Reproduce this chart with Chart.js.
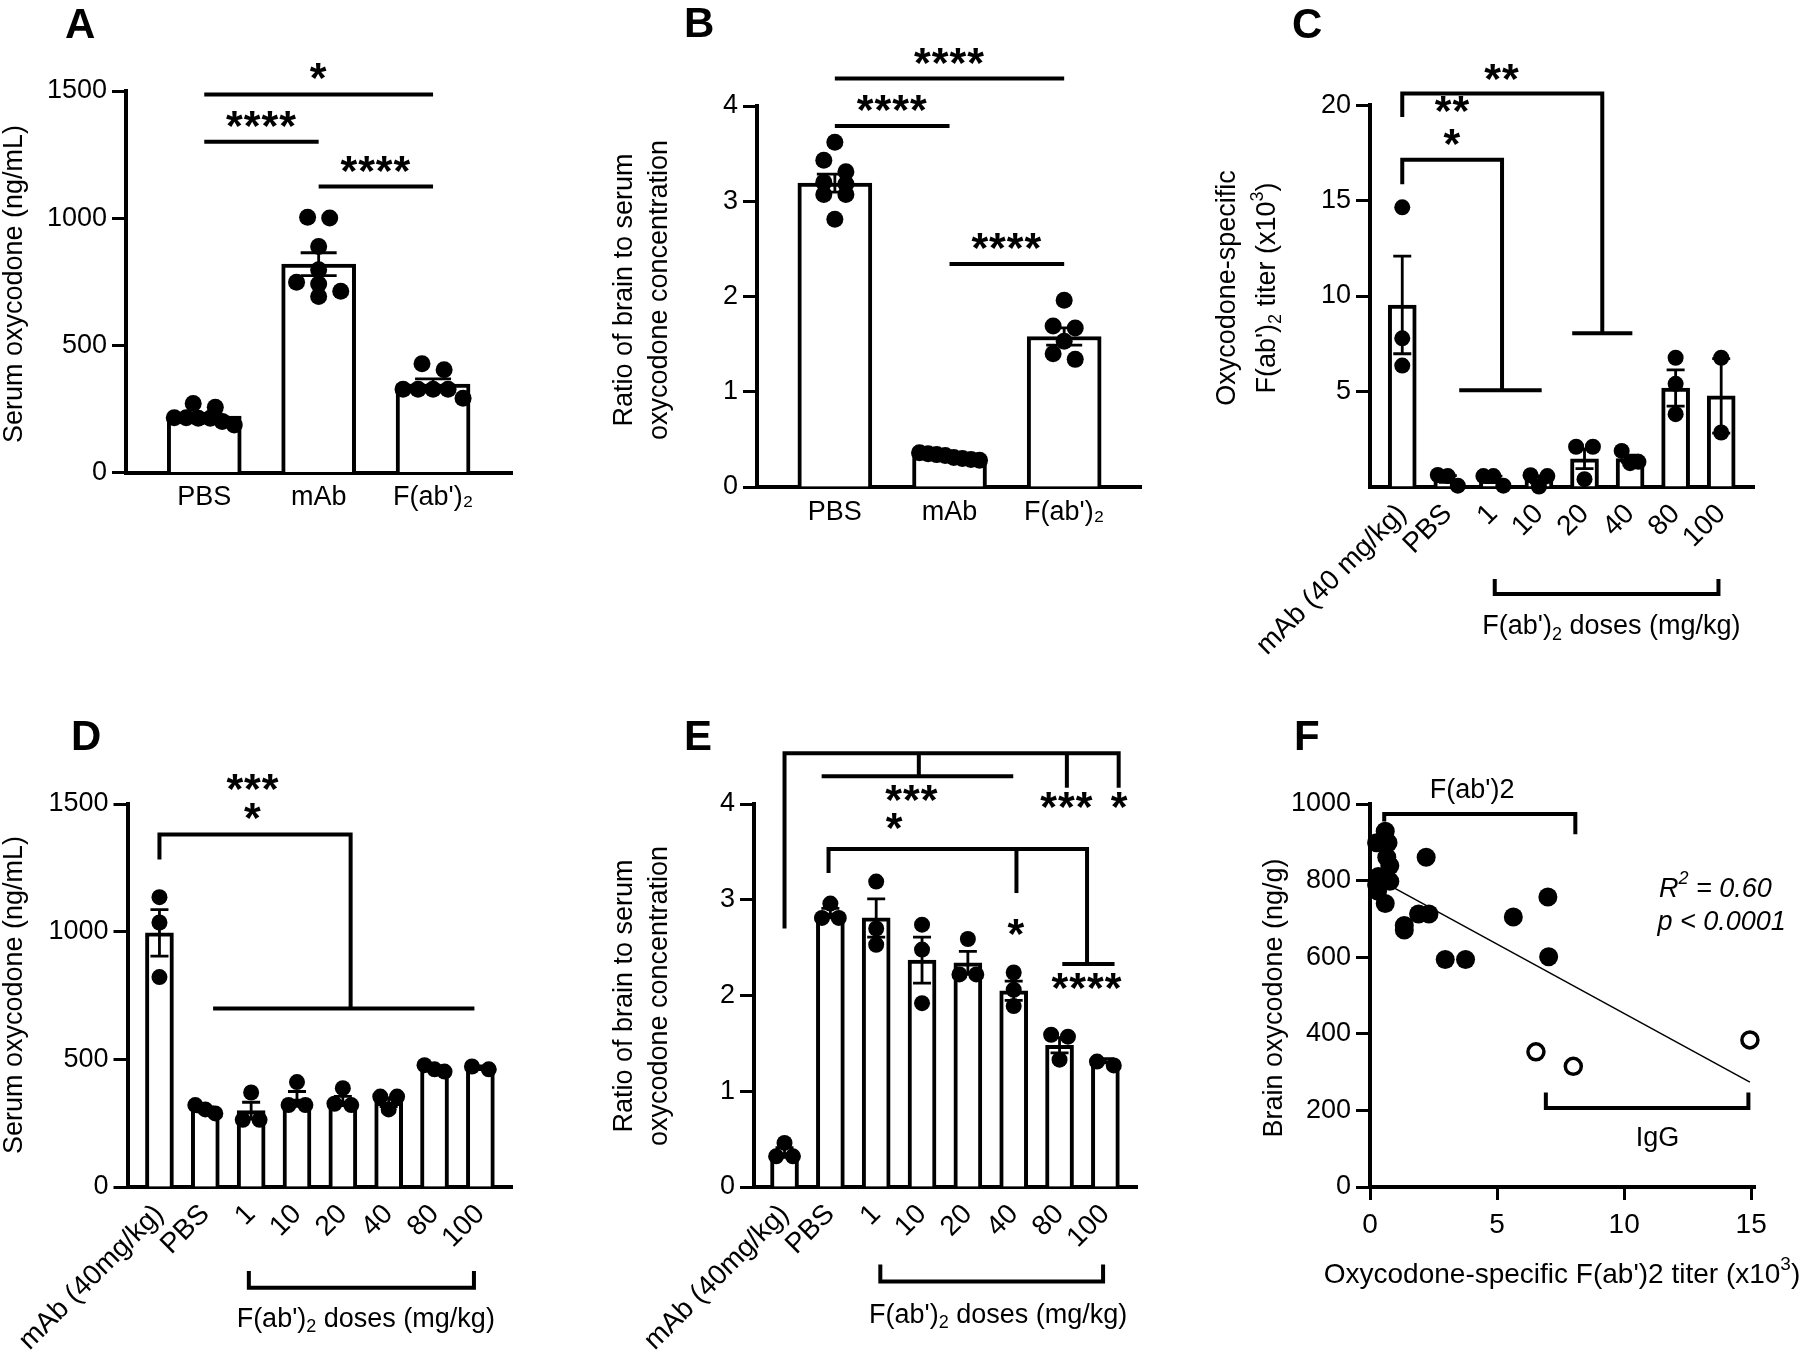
<!DOCTYPE html>
<html>
<head>
<meta charset="utf-8">
<script src="https://cdn.jsdelivr.net/npm/chart.js@4.4.1/dist/chart.umd.min.js"></script>
<style>
  body { margin: 0; background: #fff; }
  #wrap { position: relative; width: 1800px; height: 1358px; background: #fff; }
  #wrap canvas { position: absolute; }
</style>
</head>
<body>
<div id="wrap">
  <canvas id="cA" width="600" height="679" style="left:0;top:0"></canvas>
  <canvas id="cB" width="600" height="679" style="left:600px;top:0"></canvas>
  <canvas id="cC" width="600" height="679" style="left:1200px;top:0"></canvas>
  <canvas id="cD" width="600" height="679" style="left:0;top:679px"></canvas>
  <canvas id="cE" width="600" height="679" style="left:600px;top:679px"></canvas>
  <canvas id="cF" width="600" height="679" style="left:1200px;top:679px"></canvas>
</div>
<script>
// ---- A: serum oxycodone (ng/mL)
const groupsA = ['PBS', 'mAb', "F(ab')₂"];
const meanA = [222, 819, 348];
const semA = [10, 45, 20];
const dotsA = [
  [271, 201, 215, 213, 215, 257, 187, 213],
  [1001, 1004, 889, 797, 748, 741, 692, 713],
  [404, 428, 327, 327, 327, 327, 292]
];
const yTicksA = [0, 500, 1000, 1500];

// ---- B: brain / serum ratio
const groupsB = ['PBS', 'mAb', "F(ab')₂"];
const meanB = [3.19, 0.32, 1.58];
const semB = [0.095, 0.01, 0.09];
const dotsB = [
  [3.62, 3.43, 3.31, 3.20, 3.18, 3.07, 3.07, 2.81],
  [0.36, 0.33, 0.35, 0.30, 0.34, 0.29, 0.28, 0.31],
  [1.96, 1.69, 1.67, 1.53, 1.34, 1.40]
];
const yTicksB = [0, 1, 2, 3, 4];

// ---- C: oxycodone-specific F(ab')2 titer (x10^3)
const groupsC = ['mAb (40 mg/kg)', 'PBS', '1', '10', '20', '40', '80', '100'];
const meanC = [9.53, 0.40, 0.38, 0.38, 1.46, 1.47, 5.17, 4.76];
const semC = [2.56, 0.18, 0.17, 0.18, 0.52, 0.18, 0.95, 1.95];
const dotsC = [
  [14.65, 7.78, 6.35], [0.05, 0.61, 0.55], [0.05, 0.55, 0.55], [0.0, 0.6, 0.55],
  [2.09, 2.09, 0.39], [1.87, 1.23, 1.30], [6.76, 5.39, 3.80], [6.76, 2.84]
];
const yTicksC = [5, 10, 15, 20];

// ---- D: serum oxycodone by dose
const groupsD = ['mAb (40mg/kg)', 'PBS', '1', '10', '20', '40', '80', '100'];
const meanD = [995, 304, 299, 345, 337, 332, 466, 469];
const semD = [91, 10, 33, 29, 18, 17, 8, 5];
const dotsD = [
  [1135, 1036, 822], [288, 321, 304], [370, 263, 263], [411, 321, 321],
  [387, 321, 326], [304, 354, 354], [461, 477, 452], [461, 472]
];
const yTicksD = [0, 500, 1000, 1500];

// ---- E: brain / serum ratio by dose
const groupsE = ['mAb (40mg/kg)', 'PBS', '1', '10', '20', '40', '80', '100'];
const meanE = [0.36, 2.86, 2.81, 2.37, 2.34, 2.05, 1.48, 1.32];
const semE = [0.05, 0.05, 0.2, 0.24, 0.12, 0.1, 0.08, 0.02];
const dotsE = [
  [0.46, 0.32, 0.32], [2.96, 2.81, 2.81], [3.19, 2.70, 2.53], [2.74, 2.48, 1.92],
  [2.59, 2.22, 2.22], [2.24, 2.06, 1.89], [1.59, 1.57, 1.33], [1.27, 1.31]
];
const yTicksE = [0, 1, 2, 3, 4];

// ---- F: brain oxycodone vs titer
const titerF = [0.60, 0.26, 0.71, 0.66, 0.78, 0.33, 0.26, 0.78, 0.30, 0.60,
                2.21, 1.35, 1.35, 1.91, 2.32, 2.96, 3.76, 5.64, 7.00, 7.03];
const brainF = [929, 899, 899, 861, 839, 811, 789, 798, 773, 740,
                861, 683, 671, 713, 713, 594, 594, 705, 757, 601];
const titerIgG = [6.53, 8.00, 14.95];
const brainIgG = [353, 315, 384];
const fitX = [0.26, 14.95];
const fitY = [806, 274];
const xTicksF = [0, 5, 10, 15];
const yTicksF = [0, 200, 400, 600, 800, 1000];

// significance brackets, in data units
const annA = {
  lines: [[[0, 1486], [2, 1486]], [[0, 1300], [1, 1300]], [[1, 1125], [2, 1125]]],
  stars: [[1, 1577, '*'], [0.5, 1388, '****'], [1.5, 1212, '****']]
};
const annB = {
  lines: [[[0, 4.29], [2, 4.29]], [[0, 3.79], [1, 3.79]], [[1, 2.34], [2, 2.34]]],
  stars: [[1, 4.53, '****'], [0.5, 4.03, '****'], [1.5, 2.58, '****']]
};
const annC = {
  lines: [
    [[0, 19.39], [0, 20.63], [4.39, 20.63], [4.39, 8.05]], [[3.73, 8.05], [5.05, 8.05]],
    [[0, 15.86], [0, 17.15], [2.19, 17.15], [2.19, 5.05]], [[1.25, 5.05], [3.06, 5.05]],
    [[2.03, -4.85], [2.03, -5.64], [6.94, -5.64], [6.94, -4.85]]
  ],
  stars: [[2.19, 21.77, '**'], [1.10, 20.07, '**'], [1.10, 18.36, '*']],
  texts: [[4.59, -7.35, "F(ab')_2 doses (mg/kg)", 'center']]
};
const annD = {
  lines: [
    [[0, 1283], [0, 1381], [4.17, 1381], [4.17, 699]], [[1.17, 699], [6.87, 699]],
    [[1.95, -329], [1.95, -395], [6.86, -395], [6.86, -329]]
  ],
  stars: [[2.04, 1587, '***'], [2.04, 1472, '*']],
  texts: [[4.50, -518, "F(ab')_2 doses (mg/kg)", 'center']]
};
const annE = {
  lines: [
    [[0, 2.70], [0, 4.53], [7.29, 4.53], [7.29, 4.17]],
    [[2.93, 4.53], [2.93, 4.29]], [[0.81, 4.29], [4.99, 4.29]],
    [[6.16, 4.53], [6.16, 4.17]],
    [[0.96, 3.28], [0.96, 3.53], [6.60, 3.53], [6.60, 2.33]], [[6.06, 2.33], [7.20, 2.33]],
    [[5.06, 3.53], [5.06, 3.07]],
    [[2.09, -0.81], [2.09, -0.987], [6.95, -0.987], [6.95, -0.81]]
  ],
  stars: [[2.78, 4.12, '***'], [2.40, 3.82, '*'], [6.16, 4.04, '***'], [7.31, 4.04, '*'],
          [5.06, 2.72, '*'], [6.60, 2.15, '****']],
  texts: [[4.66, -1.34, "F(ab')_2 doses (mg/kg)", 'center']]
};
const annF = {
  lines: [[[0.56, 954], [0.56, 973.7], [8.08, 973.7], [8.08, 921]],
          [[6.92, 247], [6.92, 206], [14.89, 206], [14.89, 247]]],
  texts: [[4.02, 1036, "F(ab')2", 'center'], [11.31, 126, 'IgG', 'center'],
          [11.37, 778, 'R^2 = 0.60', 'left', 'italic'], [11.31, 691, 'p < 0.0001', 'left', 'italic']]
};

const FONT = "'Liberation Sans', Arial, Helvetica, sans-serif";
Chart.defaults.font.family = FONT;
Chart.defaults.color = '#000';

const base = { w: 600, h: 679, lw: 4, annW: 4, errW: 2.8, starSize: 43, titleSize: 27, tickSize: 27 };
const wide = { barW: 74, cap: 18, dot: 8.5, gap: 1.3, spread: 60, rot: 0, labelPad: 9, xFont: 27 };
const narrow = { barW: 28, cap: 9, dot: 8, gap: 1.05, spread: 20, rot: 45, labelPad: 11, xFont: 28 };

const layoutA = { ...base, ...wide, letter: 'A', letterX: 65, letterY: 38, left: 126, right: 512, top: 91, bottom: 472.5,
  xMin: -0.684, xMax: 2.69, yTitle: ['Serum oxycodone (ng/mL)'], yTitleX: [15], yTitleY: 284 };
const layoutB = { ...base, ...wide, letter: 'B', letterX: 84, letterY: 37, left: 157, right: 541, top: 106, bottom: 487,
  xMin: -0.679, xMax: 2.67, yTitle: ['Ratio of brain to serum', 'oxycodone concentration'], yTitleX: [25, 60], yTitleY: 290 };
const layoutC = { ...base, ...narrow, letter: 'C', letterX: 92, letterY: 38, left: 170, right: 554, top: 105.4, bottom: 486.6,
  xMin: -0.708, xMax: 7.72, yTitle: ['Oxycodone-specific', "F(ab')_2 titer (x10^3)"], yTitleX: [28, 68], yTitleY: 288 };
const layoutD = { ...base, ...narrow, letter: 'D', letterX: 71, letterY: 71, left: 127.5, right: 512, top: 125, bottom: 508,
  xMin: -0.697, xMax: 7.69, yTitle: ['Serum oxycodone (ng/mL)'], yTitleX: [15], yTitleY: 316 };
const layoutE = { ...base, ...narrow, letter: 'E', letterX: 84, letterY: 71, left: 154, right: 537, top: 125, bottom: 508,
  xMin: -0.666, xMax: 7.69, yTitle: ['Ratio of brain to serum', 'oxycodone concentration'], yTitleX: [25, 60], yTitleY: 317 };
const layoutF = { ...base, letter: 'F', letterX: 94, letterY: 71, left: 170, right: 555, top: 125, bottom: 508,
  xMin: 0, xMax: 15.15, yTitle: ['Brain oxycodone (ng/g)'], yTitleX: [75], yTitleY: 319,
  xTitle: "Oxycodone-specific F(ab')2 titer (x10^3)", xTitleX: 362, xTitleY: 596 };

// "_x" = subscript char, "^x" = superscript char
function richParts(str) {
  const out = [];
  let buf = '';
  for (let i = 0; i < str.length; i++) {
    const c = str[i];
    if ((c === '_' || c === '^') && i + 1 < str.length) {
      if (buf) out.push({ t: buf, s: 0 });
      buf = '';
      out.push({ t: str[i + 1], s: c === '_' ? 1 : -1 });
      i++;
    } else buf += c;
  }
  if (buf) out.push({ t: buf, s: 0 });
  return out;
}

function drawRich(ctx, str, x, y, size, align, style) {
  const parts = richParts(str);
  const fontFor = p => `${style || ''} ${p.s ? Math.round(size * 0.68) : size}px ${FONT}`;
  let w = 0;
  parts.forEach(p => { ctx.font = fontFor(p); p.w = ctx.measureText(p.t).width; w += p.w; });
  let cx = align === 'center' ? x - w / 2 : align === 'right' ? x - w : x;
  ctx.textAlign = 'left';
  ctx.textBaseline = 'middle';
  parts.forEach(p => {
    ctx.font = fontFor(p);
    ctx.fillText(p.t, cx, y + (p.s > 0 ? size * 0.3 : p.s < 0 ? -size * 0.38 : 0));
    cx += p.w;
  });
}

function overlay(a, L, means, sem) {
  return {
    id: 'overlay',
    afterDatasetDraw(chart, args) {
      if (args.meta.type !== 'bar' || !sem) return;
      const ctx = chart.ctx, y = chart.scales.y;
      ctx.save();
      ctx.strokeStyle = '#000';
      ctx.lineWidth = L.errW;
      args.meta.data.forEach((bar, i) => {
        const y1 = y.getPixelForValue(means[i] + sem[i]);
        const y2 = y.getPixelForValue(means[i] - sem[i]);
        ctx.beginPath();
        ctx.moveTo(bar.x, y1); ctx.lineTo(bar.x, y2);
        ctx.moveTo(bar.x - L.cap, y1); ctx.lineTo(bar.x + L.cap, y1);
        ctx.moveTo(bar.x - L.cap, y2); ctx.lineTo(bar.x + L.cap, y2);
        ctx.stroke();
      });
      ctx.restore();
    },
    afterDraw(chart) {
      const { ctx, scales: { x, y } } = chart;
      const X = v => x.getPixelForValue(v), Y = v => y.getPixelForValue(v);
      ctx.save();
      ctx.strokeStyle = '#000';
      ctx.fillStyle = '#000';
      ctx.lineWidth = L.annW;
      ctx.lineJoin = 'miter';
      ctx.lineCap = 'butt';
      (a.lines || []).forEach(path => {
        ctx.beginPath();
        path.forEach(([vx, vy], j) => j ? ctx.lineTo(X(vx), Y(vy)) : ctx.moveTo(X(vx), Y(vy)));
        ctx.stroke();
      });
      ctx.font = `bold ${L.starSize}px ${FONT}`;
      ctx.letterSpacing = '1px';
      ctx.textAlign = 'center';
      ctx.textBaseline = 'alphabetic';
      (a.stars || []).forEach(([vx, vy, t]) => {
        const m = ctx.measureText(t);
        ctx.fillText(t, X(vx), Y(vy) + (m.actualBoundingBoxAscent - m.actualBoundingBoxDescent) / 2);
      });
      ctx.letterSpacing = '0px';
      (a.texts || []).forEach(([vx, vy, t, align, style]) => drawRich(ctx, t, X(vx), Y(vy), L.titleSize, align, style));
      L.yTitle.forEach((t, k) => {
        ctx.save();
        ctx.translate(L.yTitleX[k], L.yTitleY);
        ctx.rotate(-Math.PI / 2);
        drawRich(ctx, t, 0, 0, L.titleSize, 'center');
        ctx.restore();
      });
      if (L.xTitle) drawRich(ctx, L.xTitle, L.xTitleX, L.xTitleY, 28, 'center');
      ctx.font = `bold 42px ${FONT}`;
      ctx.textAlign = 'left';
      ctx.textBaseline = 'alphabetic';
      ctx.fillText(L.letter, L.letterX, L.letterY);
      ctx.restore();
    }
  };
}

// GraphPad-like scatter: values close in height share a row, centred on the bar
function placeDots(chart, groups, L) {
  const xs = chart.scales.x, ys = chart.scales.y;
  const d = L.dot * 2;
  const out = [];
  groups.forEach((vals, i) => {
    const cx = xs.getPixelForValue(i);
    const sorted = vals.map(v => ({ v, py: ys.getPixelForValue(v) })).sort((p, q) => p.py - q.py);
    let row = [];
    const flush = () => {
      const n = row.length;
      const gap = n > 1 ? Math.min(d * L.gap, L.spread / (n - 1)) : 0;
      row.forEach((p, j) => out.push({ x: xs.getValueForPixel(cx + (j - (n - 1) / 2) * gap), y: p.v }));
      row = [];
    };
    sorted.forEach(p => {
      if (row.length && p.py - row[0].py > d * 0.7) flush();
      row.push(p);
    });
    flush();
  });
  chart.data.datasets[0].data = out;
  chart.update('none');
}

function yScale(L, ticks, max) {
  return {
    min: 0, max,
    afterBuildTicks: s => { s.ticks = ticks.map(v => ({ value: v })); },
    afterFit: s => { s.width = L.left; },
    grid: { drawOnChartArea: false, tickLength: 14, tickWidth: 3, tickColor: '#000' },
    border: { color: '#000', width: L.lw },
    ticks: { padding: 5, color: '#000', font: { size: L.tickSize }, callback: v => String(v) }
  };
}

function barPanel(id, L, cats, means, sem, dots, ticks, yMax, ann) {
  const chart = new Chart(document.getElementById(id), {
    type: 'bar',
    data: {
      datasets: [
        { type: 'scatter', data: [], pointRadius: L.dot, pointHoverRadius: L.dot,
          pointBackgroundColor: '#000', pointBorderWidth: 0, clip: false, order: 1 },
        { type: 'bar', data: means.map((m, i) => ({ x: i, y: m })), backgroundColor: '#fff',
          borderColor: '#000', borderWidth: L.lw, barThickness: L.barW, order: 2 }
      ]
    },
    options: {
      responsive: false, animation: false, devicePixelRatio: 1,
      layout: { padding: { top: L.top, right: L.w - L.right, left: 0, bottom: 0 } },
      plugins: { legend: { display: false }, tooltip: { enabled: false } },
      scales: {
        x: {
          type: 'linear', min: L.xMin, max: L.xMax, offset: false,
          afterBuildTicks: s => { s.ticks = cats.map((c, i) => ({ value: i })); },
          afterFit: s => { s.height = L.h - L.bottom; },
          grid: { drawOnChartArea: false, drawTicks: false, offset: false },
          border: { color: '#000', width: L.lw },
          ticks: { callback: v => cats[v], autoSkip: false, maxRotation: L.rot, minRotation: L.rot,
                   padding: L.labelPad, color: '#000', font: { size: L.xFont } }
        },
        y: yScale(L, ticks, yMax)
      }
    },
    plugins: [overlay(ann, L, means, sem)]
  });
  placeDots(chart, dots, L);
}

barPanel('cA', layoutA, groupsA, meanA, semA, dotsA, yTicksA, 1500, annA);
barPanel('cB', layoutB, groupsB, meanB, semB, dotsB, yTicksB, 4, annB);
barPanel('cC', layoutC, groupsC, meanC, semC, dotsC, yTicksC, 20, annC);
barPanel('cD', layoutD, groupsD, meanD, semD, dotsD, yTicksD, 1500, annD);
barPanel('cE', layoutE, groupsE, meanE, semE, dotsE, yTicksE, 4, annE);

new Chart(document.getElementById('cF'), {
  type: 'scatter',
  data: {
    datasets: [
      { data: titerF.map((t, i) => ({ x: t, y: brainF[i] })), pointRadius: 9.5,
        pointBackgroundColor: '#000', pointBorderWidth: 0, clip: false },
      { data: titerIgG.map((t, i) => ({ x: t, y: brainIgG[i] })), pointRadius: 8,
        pointBackgroundColor: '#fff', pointBorderColor: '#000', pointBorderWidth: 3.5, clip: false },
      { type: 'line', data: fitX.map((v, i) => ({ x: v, y: fitY[i] })), borderColor: '#000',
        borderWidth: 1.5, pointRadius: 0, fill: false, clip: false }
    ]
  },
  options: {
    responsive: false, animation: false, devicePixelRatio: 1,
    layout: { padding: { top: layoutF.top, right: layoutF.w - layoutF.right, left: 0, bottom: 0 } },
    plugins: { legend: { display: false }, tooltip: { enabled: false } },
    scales: {
      x: {
        type: 'linear', min: layoutF.xMin, max: layoutF.xMax,
        afterBuildTicks: s => { s.ticks = xTicksF.map(v => ({ value: v })); },
        afterFit: s => { s.height = layoutF.h - layoutF.bottom; },
        grid: { drawOnChartArea: false, tickLength: 13, tickWidth: 3, tickColor: '#000' },
        border: { color: '#000', width: layoutF.lw },
        ticks: { padding: 8, color: '#000', font: { size: 28 }, callback: v => String(v) }
      },
      y: yScale(layoutF, yTicksF, 1000)
    }
  },
  plugins: [overlay(annF, layoutF)]
});
</script>
</body>
</html>
